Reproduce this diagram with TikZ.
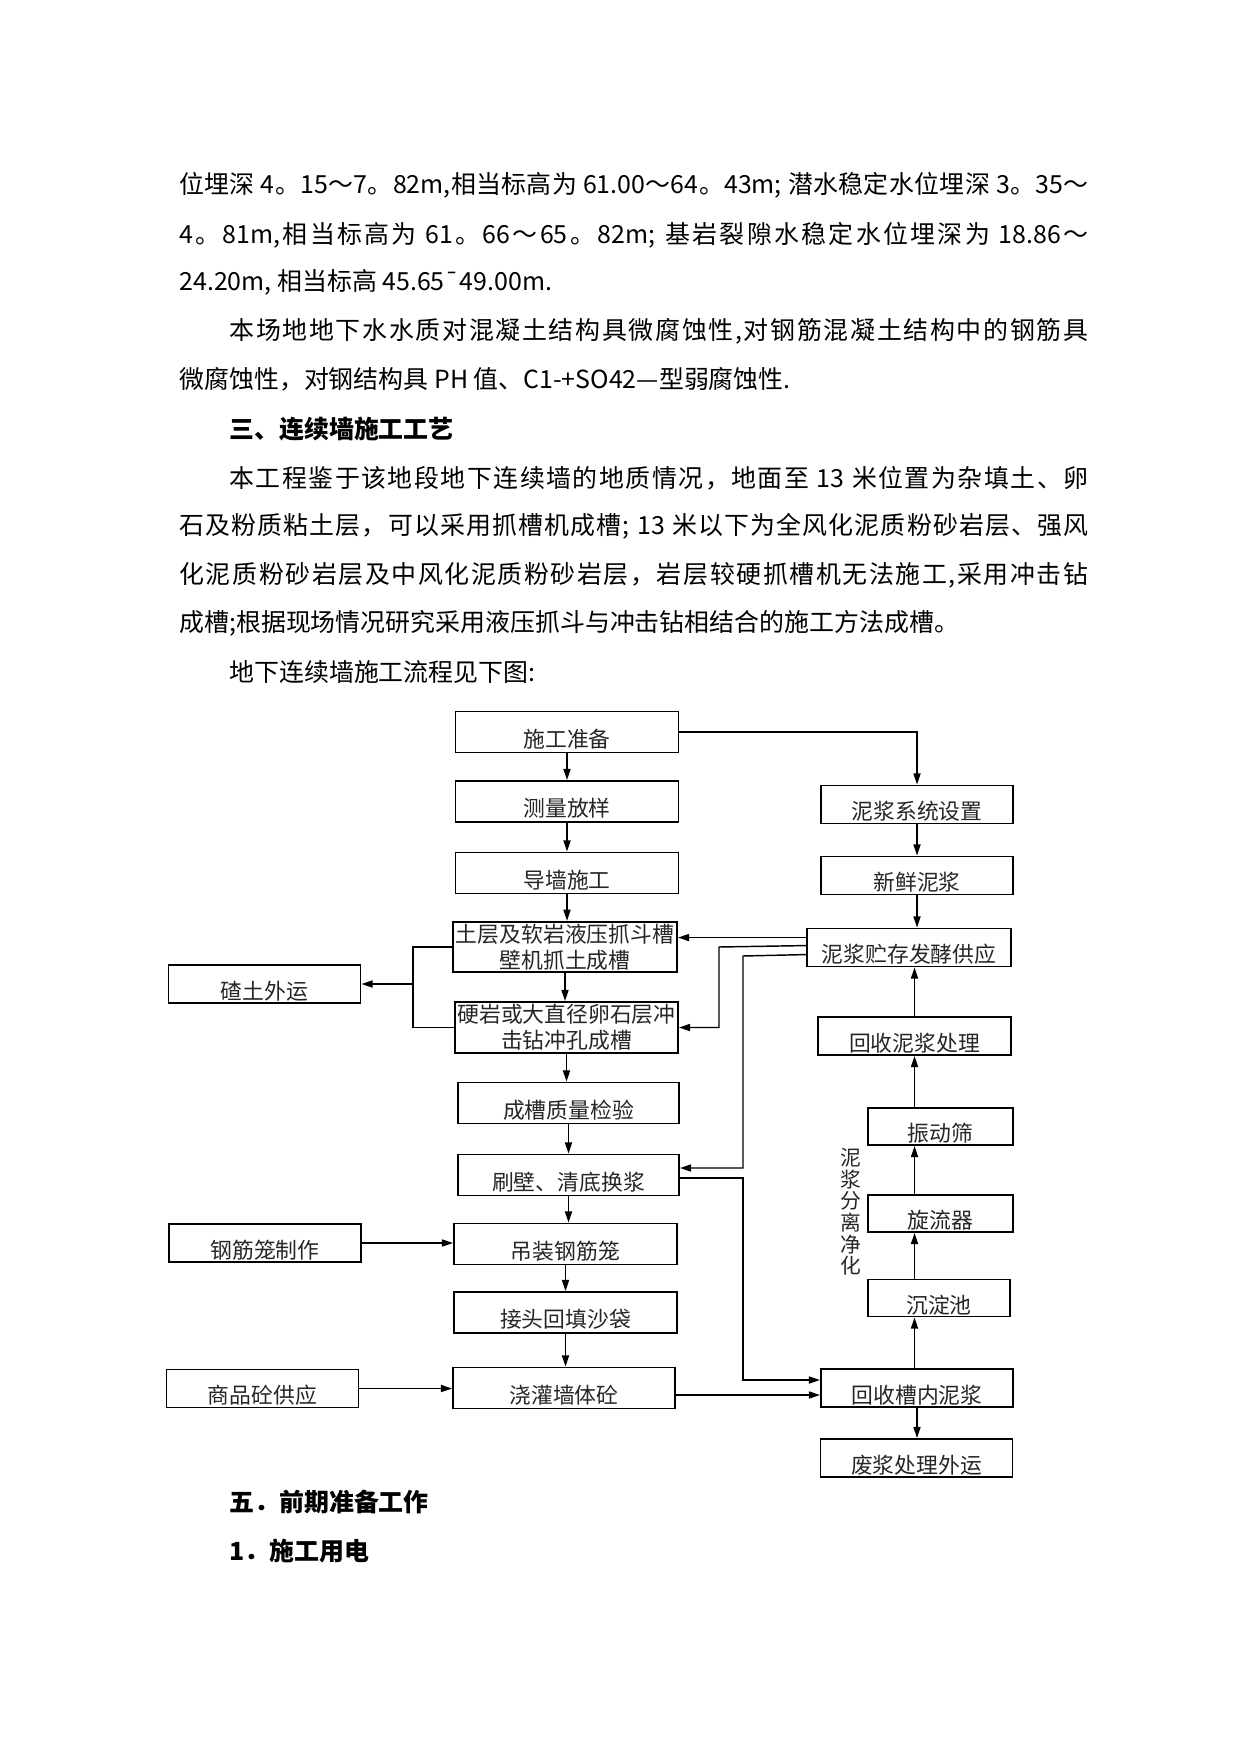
\documentclass[tikz,border=0pt]{standalone}
\usepackage{fontspec}
\newfontfamily\cjk{Noto Sans CJK SC}
\usetikzlibrary{arrows.meta,positioning,calc}
\newlength{\pxu}
\setlength{\pxu}{0.16922mm}
% small stretch between CJK characters, so full lines can be spread
\newXeTeXintercharclass\cjkcls
\newcount\cjkcnt
\newcommand{\setcjkrange}[2]{%
  \cjkcnt=#1
  \loop
    \XeTeXcharclass\cjkcnt=\cjkcls
    \advance\cjkcnt by 1
  \ifnum\cjkcnt<#2 \repeat}
\setcjkrange{"4E00}{"A000}
\setcjkrange{"3000}{"3040}
\setcjkrange{"FF00}{"FFF0}
\XeTeXinterchartokenstate=1
\XeTeXinterchartoks \cjkcls \cjkcls = {\hskip 0pt plus 1pt\relax}
\XeTeXinterchartoks 0 \cjkcls = {\hskip 0pt plus 1pt\relax}
\XeTeXinterchartoks \cjkcls 0 = {\hskip 0pt plus 1pt\relax}
\newcommand{\bodyfont}{\cjk\fontsize{12pt}{14pt}\selectfont}
\newcommand{\boxfont}{\cjk\fontsize{10.5pt}{12.5pt}\selectfont}
\newcommand{\spreadline}[2]{\hbox to #1\pxu{#2}}
\tikzset{
  fbox/.style={draw=black,line width=0.9pt,inner sep=0pt,font=\boxfont,text=black!85,text height=16pt,text depth=1.5pt},
  fbox2/.style={draw=black,line width=0.9pt,inner sep=1pt,align=center,font=\boxfont,text=black!85},
  cbox/.style={fbox,minimum width=223\pxu,minimum height=41\pxu},
  sbox/.style={fbox,minimum width=192\pxu,minimum height=38\pxu},
  nbox/.style={fbox,minimum width=145\pxu,minimum height=37\pxu},
  farr/.style={-{Triangle[length=1.9mm,width=1.2mm]},line width=0.7pt},
  fline/.style={line width=0.7pt},
  ptxt/.style={anchor=west,inner sep=0pt,font=\bodyfont},
  phead/.style={anchor=west,inner sep=0pt,font=\bodyfont\bfseries}
}
\begin{document}
\begin{tikzpicture}[x=0.16922mm,y=-0.16922mm]
  \fill[white] (0,0) rectangle (1241,1754);
  \useasboundingbox (0,0) rectangle (1241,1754);
  % page text
  \node[ptxt] (l1) at (179,185) {\spreadline{909}{位埋深 4。15～7。82m,相当标高为 61.00～64。43m; 潜水稳定水位埋深 3。35～}};
  \node[ptxt] (l2) at (179,235) {\spreadline{909}{4。81m,相当标高为 61。66～65。82m; 基岩裂隙水稳定水位埋深为 18.86～}};
  \node[ptxt] (l3) at (179,282) {24.20m, 相当标高 45.65¯49.00m.};
  \node[ptxt] (l4) at (229,331) {\spreadline{859}{本场地地下水水质对混凝土结构具微腐蚀性,对钢筋混凝土结构中的钢筋具}};
  \node[ptxt] (l5) at (179,379) {微腐蚀性，对钢结构具 PH 值、C1-+SO42—型弱腐蚀性.};
  \node[phead] (h3) at (229,429) {三、连续墙施工工艺};
  \node[ptxt] (l6) at (229,478) {\spreadline{859}{本工程鉴于该地段地下连续墙的地质情况，地面至 13 米位置为杂填土、卵}};
  \node[ptxt] (l7) at (179,526) {\spreadline{909}{石及粉质粘土层，可以采用抓槽机成槽; 13 米以下为全风化泥质粉砂岩层、强风}};
  \node[ptxt] (l8) at (179,575) {\spreadline{909}{化泥质粉砂岩层及中风化泥质粉砂岩层，岩层较硬抓槽机无法施工,采用冲击钻}};
  \node[ptxt] (l9) at (179,623) {成槽;根据现场情况研究采用液压抓斗与冲击钻相结合的施工方法成槽。};
  \node[ptxt] (l10) at (229,672) {地下连续墙施工流程见下图:};
  \node[phead] (h5) at (229,1502) {五．前期准备工作};
  \node[phead] (h51) at (229,1551) {1．施工用电};
  % flow chart, main column
  \node[cbox] (prep) at (567,732) {施工准备};
  \node[cbox] (survey) at (567,801.5) {测量放样};
  \node[cbox] (guide) at (567,873) {导墙施工};
  \node[fbox2,minimum width=224\pxu,minimum height=50\pxu] (grab) at (565,947) {土层及软岩液压抓斗槽\\壁机抓土成槽};
  \node[fbox2,minimum width=223\pxu,minimum height=51\pxu] (drill) at (566.5,1027.5) {硬岩或大直径卵石层冲\\击钻冲孔成槽};
  \node[cbox,minimum width=221\pxu] (check) at (568.5,1103) {成槽质量检验};
  \node[cbox,minimum width=221\pxu] (clean) at (568.5,1175) {刷壁、清底换浆};
  \node[cbox] (cage) at (565.5,1244) {吊装钢筋笼};
  \node[cbox] (sand) at (565.5,1312.5) {接头回填沙袋};
  \node[cbox,minimum width=222\pxu] (pour) at (564,1388) {浇灌墙体砼};
  % left column
  \node[sbox] (spoil) at (264.5,984) {碴土外运};
  \node[sbox] (make) at (265,1243) {钢筋笼制作};
  \node[sbox] (supply) at (262.5,1388.5) {商品砼供应};
  % right column
  \node[sbox] (mudsys) at (917,804.5) {泥浆系统设置};
  \node[sbox] (fresh) at (917,875.5) {新鲜泥浆};
  \node[sbox,minimum width=204\pxu] (store) at (909,947.5) {泥浆贮存发酵供应};
  \node[sbox,minimum width=193\pxu] (recyc) at (914.5,1036) {回收泥浆处理};
  \node[nbox] (screen) at (940.5,1126.5) {振动筛};
  \node[nbox] (cyclone) at (940.5,1213.5) {旋流器};
  \node[nbox,minimum width=142\pxu] (settle) at (939,1298) {沉淀池};
  \node[sbox] (trough) at (917,1388) {回收槽内泥浆};
  \node[sbox] (waste) at (916.5,1458) {废浆处理外运};
  \node[font=\cjk\fontsize{10pt}{10.4pt}\selectfont,text=black!85,align=center,inner sep=0pt] (seplbl) at (851,1212) {泥\\浆\\分\\离\\净\\化};
  % main column arrows
  \draw[farr] (prep.south) -- (prep.south |- survey.north);
  \draw[farr] (survey.south) -- (survey.south |- guide.north);
  \draw[farr] (guide.south) -- (guide.south |- grab.north);
  \draw[farr] (grab.south) -- (grab.south |- drill.north);
  \draw[farr] (drill.south) -- (drill.south |- check.north);
  \draw[farr] (check.south) -- (check.south |- clean.north);
  \draw[farr] (clean.south) -- (clean.south |- cage.north);
  \draw[farr] (cage.south) -- (cage.south |- sand.north);
  \draw[farr] (sand.south) -- (sand.south |- pour.north);
  % side inputs and outputs
  \coordinate (lj) at (413,947);
  \draw[fline] (grab.west) -- (lj) |- (drill.west);
  \draw[farr] (lj |- spoil.east) -- (spoil.east);
  \draw[farr] (make.east) -- (make.east -| cage.west);
  \draw[farr] (supply.east) -- (supply.east -| pour.west);
  % slurry supply
  \draw[farr] (prep.east) -| (mudsys.north);
  \draw[farr] (mudsys.south) -- (mudsys.south |- fresh.north);
  \draw[farr] (fresh.south) -- (fresh.south |- store.north);
  \coordinate (s1) at ($(store.north west)+(0,10)$);
  \coordinate (s2) at ($(store.north west)+(0,18)$);
  \coordinate (s3) at ($(store.north west)+(0,27)$);
  \coordinate (b1) at (719,947);
  \coordinate (c1) at (743,956);
  \coordinate (r1) at (743,1178);
  \draw[farr] (s1) -- (s1 -| grab.east);
  \draw[farr] (s2) -- (b1) |- (drill.east);
  \draw[farr] (s3) -- (c1) |- ($(clean.east)+(0,-7)$);
  % slurry return
  \draw[farr] ($(clean.east)+(0,3)$) -- (r1) |- ($(trough.west)+(0,-8)$);
  \draw[farr] ($(pour.east)+(0,7)$) -- ($(trough.west)+(0,7)$);
  \draw[farr] (trough.north -| recyc.south) -- (recyc.south |- settle.south);
  \draw[farr] (recyc.south |- settle.north) -- (recyc.south |- cyclone.south);
  \draw[farr] (recyc.south |- cyclone.north) -- (recyc.south |- screen.south);
  \draw[farr] (recyc.south |- screen.north) -- (recyc.south);
  \draw[farr] (recyc.north) -- (recyc.north |- store.south);
  \draw[farr] (trough.south) -- (trough.south |- waste.north);
\end{tikzpicture}
\end{document}
